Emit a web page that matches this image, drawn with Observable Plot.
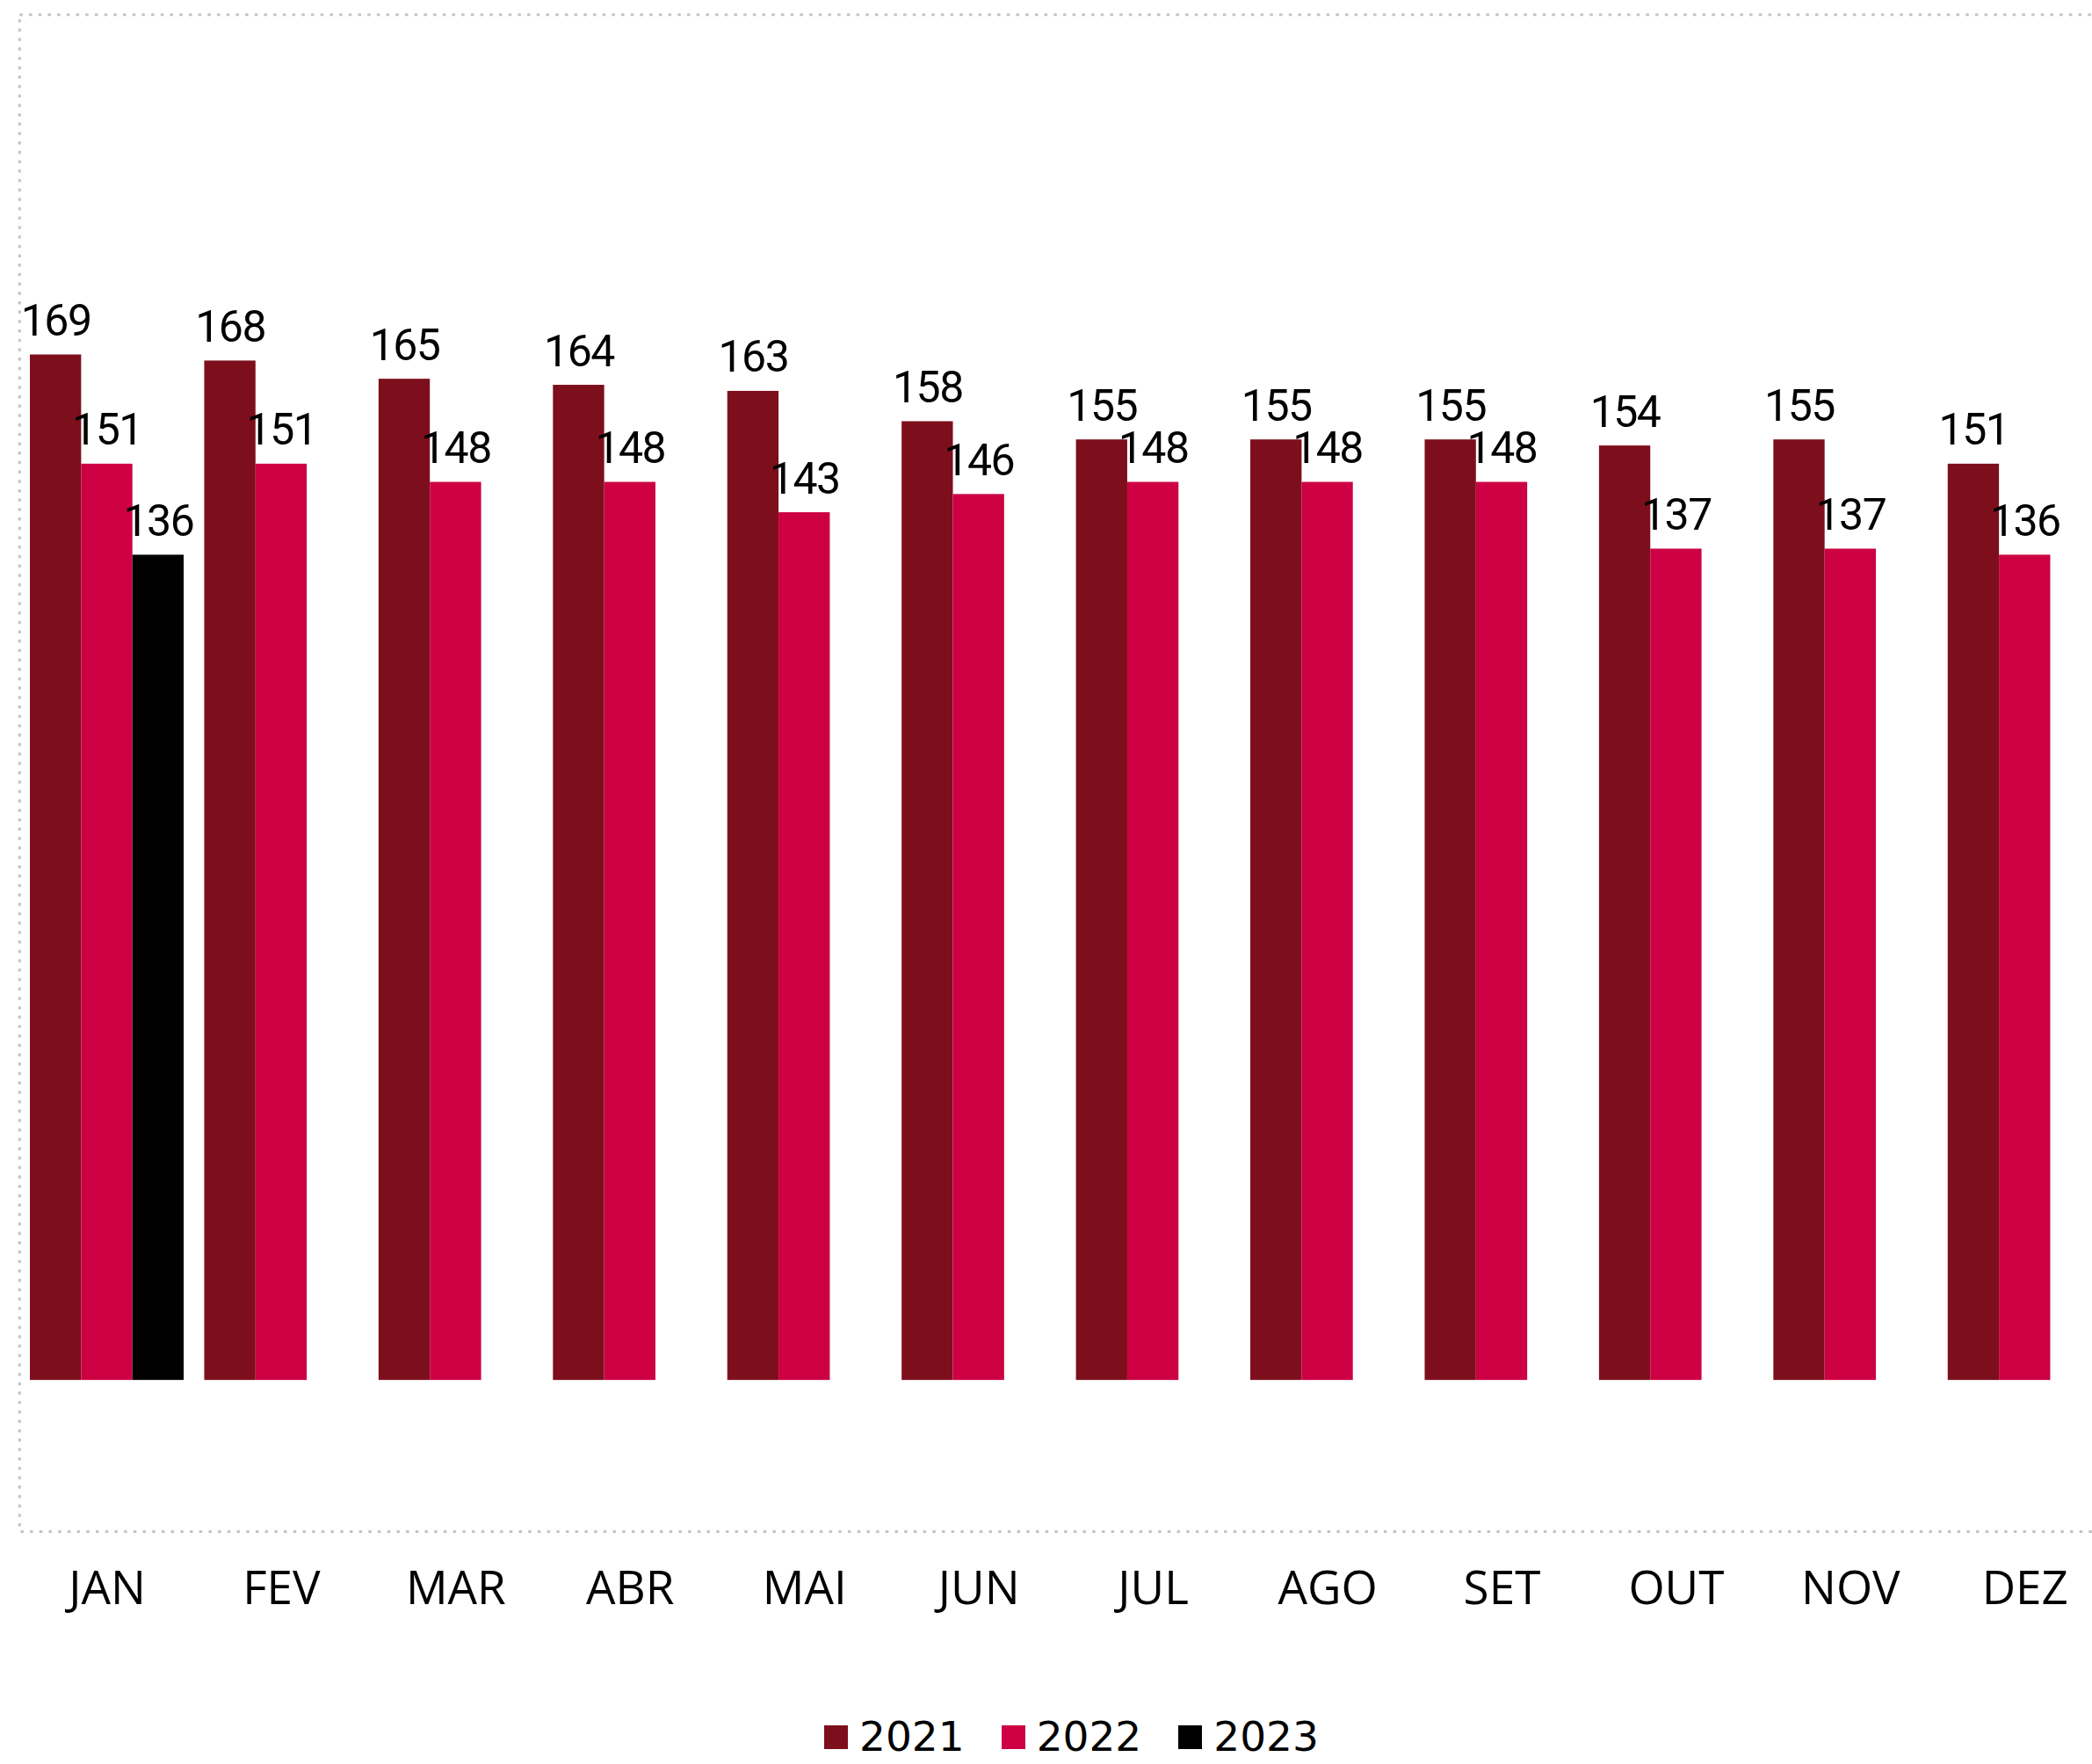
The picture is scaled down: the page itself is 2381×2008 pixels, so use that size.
<!DOCTYPE html>
<html>
<head>
<meta charset="utf-8">
<script src="https://cdn.jsdelivr.net/npm/d3@7"></script>
<script src="https://cdn.jsdelivr.net/npm/@observablehq/plot@0.6"></script>
<style>
  html, body { margin: 0; padding: 0; background: #fff; }
  #wrap { position: relative; width: 2381px; height: 2008px; overflow: hidden; }
  #legend { position: absolute; left: 938px; top: 1955px; display: flex; align-items: center;
    font-family: "DejaVu Sans", sans-serif; font-size: 47px; line-height: 44px; color: #000; }
  #legend .item { display: flex; align-items: center; margin-right: 42px; }
  #legend .sw { width: 27px; height: 27px; margin-right: 13px; }
  .vlabels text { letter-spacing: -1.5px; }
</style>
</head>
<body>
<div id="wrap">
  <div id="chart"></div>
  <div id="legend"></div>
</div>
<script>
const months = ["JAN","FEV","MAR","ABR","MAI","JUN","JUL","AGO","SET","OUT","NOV","DEZ"];
const years = ["2021","2022","2023"];
const values2021 = [169,168,165,164,163,158,155,155,155,154,155,151];
const values2022 = [151,151,148,148,143,146,148,148,148,137,137,136];
const values2023 = [136];
const colors = ["#7D0F1C","#CC0042","#000000"];

const series = [values2021, values2022, values2023];
const data = [];
months.forEach((m, i) => {
  series.forEach((vals, k) => {
    if (i < vals.length) data.push({month: m, year: years[k], value: vals[i]});
  });
});

const W = 2381, H = 1900;
const mTop = 16.7, mBottom = H - 1743.5, mLeft = 22.3, mRight = -22.5;

const plot = Plot.plot({
  width: W,
  height: H,
  marginTop: mTop,
  marginBottom: mBottom,
  marginLeft: mLeft,
  marginRight: mRight,
  style: {fontFamily: "'Open Sans', sans-serif", fontSize: "53px", color: "#000", background: "#fff", overflow: "visible"},
  fx: {domain: months, paddingInner: 0.118, paddingOuter: 0.059, round: false,
       axis: "bottom", tickSize: 0, tickPadding: 44, label: null},
  x: {domain: years, padding: 0, round: false, axis: null},
  y: {domain: [-25, 225], axis: null},
  color: {domain: years, range: colors},
  marks: [
    Plot.barY(data, {fx: "month", x: "year", y: "value", fill: "year"}),
    Plot.text(data, {fx: "month", x: "year", y: "value", text: d => String(d.value),
      dy: -22, lineAnchor: "bottom", textAnchor: "middle", className: "vlabels",
      fontFamily: "Roboto, sans-serif", fontSize: 50, fill: "#000"})
  ]
});

document.getElementById("chart").appendChild(plot);

// dotted chart-area border (right side lies beyond the picture)
d3.select(plot).append("rect")
  .attr("x", mLeft).attr("y", mTop)
  .attr("width", W).attr("height", (H - mBottom) - mTop)
  .attr("fill", "none").attr("stroke", "#c4c4c4")
  .attr("stroke-width", 3).attr("stroke-dasharray", "3.5 7.2");

const legend = d3.select("#legend");
years.forEach((y, k) => {
  const it = legend.append("div").attr("class", "item");
  it.append("div").attr("class", "sw").style("background", colors[k]);
  it.append("span").text(y);
});
</script>
</body>
</html>
